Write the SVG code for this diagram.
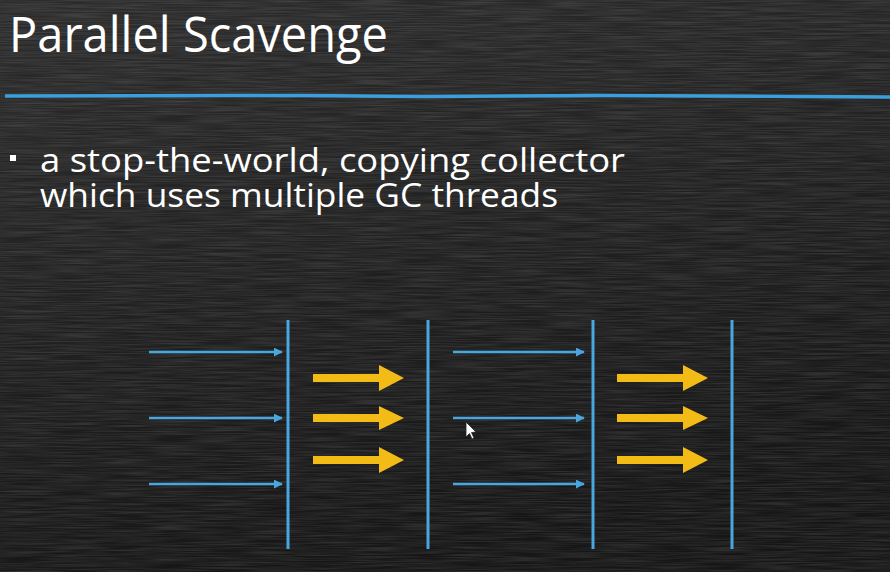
<svg xmlns="http://www.w3.org/2000/svg" width="890" height="572" viewBox="0 0 890 572">
  <defs>
    <linearGradient id="board" x1="0" y1="0" x2="0.3" y2="1">
      <stop offset="0" stop-color="#2c2c2c"/>
      <stop offset="0.5" stop-color="#212121"/>
      <stop offset="1" stop-color="#161616"/>
    </linearGradient>
    <!-- horizontal chalk smears -->
    <filter id="chalk" x="0" y="0" width="100%" height="100%">
      <feTurbulence type="fractalNoise" baseFrequency="0.02 0.8" numOctaves="2" seed="4" result="n"/>
      <feColorMatrix in="n" type="matrix" values="0 0 0 0 1  0 0 0 0 1  0 0 0 0 1  0 0 0 0.22 -0.07"/>
    </filter>
    <marker id="thin" viewBox="0 0 10 10" refX="9" refY="5" markerWidth="9" markerHeight="9" markerUnits="userSpaceOnUse" orient="auto">
      <path d="M0,0 L10,5 L0,10 Z" fill="#4aa6de"/>
    </marker>
    <style>
      .title { font-family: "Open Sans", "Noto Sans", sans-serif; font-size: 49px; fill: #ffffff; }
      .body { font-family: "Open Sans", "Noto Sans", sans-serif; font-size: 32px; fill: #ffffff; }
      .wall { stroke: #4aa6de; stroke-width: 3; fill: none; }
      .ref { stroke: #4aa6de; stroke-width: 2.5; fill: none; marker-end: url(#thin); }
      .copy { fill: #f2bb16; }
    </style>
  </defs>

  <!-- chalkboard background -->
  <rect width="890" height="572" fill="url(#board)"/>
  <rect width="890" height="572" filter="url(#chalk)"/>

  <!-- heading -->
  <g id="heading">
    <text class="title" x="9" y="52" textLength="379" lengthAdjust="spacingAndGlyphs">Parallel Scavenge</text>
    <path d="M5,96 L300,95.5 L420,96.5 L600,95.5 L890,97" stroke="#3b9fdb" stroke-width="3.5" fill="none"/>
  </g>

  <!-- bullet text -->
  <g id="bullet">
    <rect x="10" y="155" width="6" height="6" fill="#ffffff"/>
    <text class="body" x="40" y="172" textLength="585" lengthAdjust="spacingAndGlyphs">a stop-the-world, copying collector</text>
    <text class="body" x="40" y="207" textLength="518" lengthAdjust="spacingAndGlyphs">which uses multiple GC threads</text>
  </g>

  <!-- region boundaries -->
  <g id="walls">
    <line class="wall" x1="288" y1="320" x2="288" y2="549"/>
    <line class="wall" x1="428" y1="320" x2="428" y2="549"/>
    <line class="wall" x1="593" y1="320" x2="593" y2="549"/>
    <line class="wall" x1="732" y1="320" x2="732" y2="549"/>
  </g>

  <!-- incoming references and copy arrows -->
  <g id="connectors">
    <line class="ref" x1="149" y1="352" x2="282" y2="352"/>
    <line class="ref" x1="149" y1="418" x2="282" y2="418"/>
    <line class="ref" x1="149" y1="484" x2="282" y2="484" stroke-width="3"/>
    <line class="ref" x1="453" y1="352" x2="584" y2="352"/>
    <line class="ref" x1="453" y1="418" x2="584" y2="418"/>
    <line class="ref" x1="453" y1="484" x2="584" y2="484" stroke-width="3"/>

    <path class="copy" d="M313,374 L379,374 L379,365 L404,378 L379,391 L379,382 L313,382 Z"/>
    <path class="copy" d="M313,414 L379,414 L379,406 L404,418 L379,430 L379,422 L313,422 Z"/>
    <path class="copy" d="M313,456 L379,456 L379,447 L404,460 L379,473 L379,464 L313,464 Z"/>
    <path class="copy" d="M617,374 L683,374 L683,365 L708,378 L683,391 L683,382 L617,382 Z"/>
    <path class="copy" d="M617,414 L683,414 L683,406 L708,418 L683,430 L683,422 L617,422 Z"/>
    <path class="copy" d="M617,456 L683,456 L683,447 L708,460 L683,473 L683,464 L617,464 Z"/>
  </g>

  <!-- mouse pointer -->
  <path d="M466,422 L466,437 L469.5,433.5 L472,439 L474,438 L471.5,432.5 L476,432 Z" fill="#ffffff" stroke="#222" stroke-width="0.8"/>
</svg>
